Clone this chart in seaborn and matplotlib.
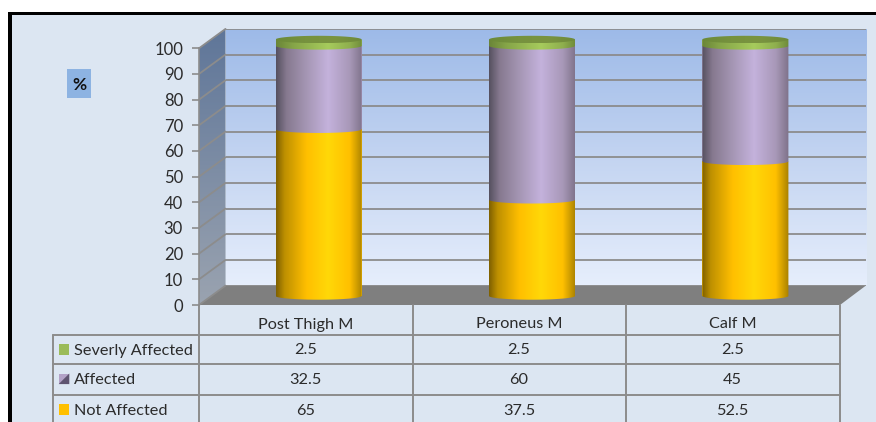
import numpy as np
import pandas as pd
import matplotlib
matplotlib.use("Agg")
import matplotlib.pyplot as plt
import seaborn as sns
from matplotlib.colors import LinearSegmentedColormap as LSC
from matplotlib.path import Path
from matplotlib.patches import Rectangle, Polygon

# ---- data ----
categories = ["Post Thigh M", "Peroneus M", "Calf M"]
not_affected = [65, 37.5, 52.5]
affected = [32.5, 60, 45]
severly_affected = [2.5, 2.5, 2.5]
y_ticks = list(range(0, 101, 10))
unit_label = "%"

W, H = 876, 422
sns.set_theme(style="white")
plt.rcParams["font.family"] = ["Lato", "DejaVu Sans"]
TXT = "#2b2b2b"
GRID = "#8c8c8c"

fig = plt.figure(figsize=(W / 100, H / 100), dpi=100, facecolor="white")

def axes_px(x0, x1, ytop, ybot, z):
    a = fig.add_axes([x0 / W, (H - ybot) / H, (x1 - x0) / W, (ybot - ytop) / H], zorder=z)
    a.patch.set_visible(False)
    return a

# ---- pixel-space backdrop ----
deco = axes_px(0, W, 0, H, 0)
deco.set_xlim(0, W); deco.set_ylim(H, 0); deco.axis("off")
deco.add_patch(Rectangle((8.3, 12.3), W, H, fc="black", ec="none"))
deco.add_patch(Rectangle((11.7, 15.3), W, H, fc="#DCE6F2", ec="none"))

# left wall and floor
wall_cm = LSC.from_list("wall", ["#5F7699", "#9AA3B0"])
im = deco.imshow(np.linspace(0, 1, 128)[:, None], cmap=wall_cm, aspect="auto",
                 extent=(199, 225.5, 305, 29), zorder=1, origin="upper")
im.set_clip_path(Polygon([(199, 48.3), (225.5, 29), (225.5, 285.5), (199, 305)],
                         transform=deco.transData))
deco.add_patch(Polygon([(199, 305), (225.5, 285.5), (866, 285.5), (840, 305)],
                       fc="#7F7F7F", ec="none", zorder=2))
deco.set_xlim(0, W); deco.set_ylim(H, 0)

# back wall with its own value scale
back = axes_px(225.5, 866, 29, 285.5, 1)
back.set_ylim(0, 100); back.set_xlim(0, 1)
wall2 = LSC.from_list("back", ["#E6EEFC", "#C3D4F1", "#9DBAE8"])
back.imshow(np.linspace(1, 0, 128)[:, None], cmap=wall2, aspect="auto",
            extent=(0, 1, 0, 100), zorder=0)
back.set_ylim(0, 100); back.set_xlim(0, 1)
back.set_yticks(y_ticks); back.set_xticks([])
back.tick_params(left=False, labelleft=False)
back.grid(axis="y", color=GRID, lw=1.3)
back.set_axisbelow(False)
sns.despine(ax=back, left=True, bottom=True, right=True, top=True)

# front plane: value axis and category labels
front = axes_px(199, 840, 48.3, 305, 2)
front.set_ylim(0, 100); front.set_xlim(-0.5, 2.5)
front.set_yticks(y_ticks)
front.set_xticks(range(len(categories)), categories)
front.tick_params(axis="y", length=5, width=1.2, color=GRID, labelsize=12,
                  labelcolor=TXT, pad=6.5, left=True)
front.tick_params(axis="x", length=0, labelsize=11.7, labelcolor=TXT, pad=9)
for s in front.spines.values():
    s.set_visible(False)
front.spines["left"].set_visible(True)
front.spines["left"].set_color(GRID)
front.spines["left"].set_linewidth(1.2)
for t in front.get_yticks():
    y = 305 - 2.567 * t
    deco.plot([199, 225.5], [y, y - 19.4], color=GRID, lw=1.3, zorder=3)
deco.set_xlim(0, W); deco.set_ylim(H, 0)

# ---- cylinders ----
ax = axes_px(211.9, 852.1, 39.5, 296, 3)
df = pd.DataFrame({"cat": categories,
                   "Not Affected": not_affected,
                   "Affected": affected,
                   "Severly Affected": severly_affected})
stack = ["Not Affected", "Affected", "Severly Affected"]
cum = df[stack].cumsum(axis=1)
base_cols = ["#FFC000", "#B3A2C7", "#9BBB59"]
for name, col in zip(stack[::-1], base_cols[::-1]):
    sns.barplot(data=cum, x=df["cat"], y=name, color=col, width=0.403,
                saturation=1, ax=ax, zorder=1, edgecolor="none", linewidth=0)
ax.set_xlim(-0.5, 2.5); ax.set_ylim(0, 100); ax.axis("off")

cmaps = {
    "Not Affected": LSC.from_list("y", [(0, "#7F6000"), (.1, "#BE9000"), (.35, "#FFBF00"),
                                        (.6, "#FFD808"), (.85, "#FFC000"), (1, "#A88000")]),
    "Affected": LSC.from_list("p", [(0, "#55505F"), (.12, "#86798F"), (.35, "#A596B4"),
                                    (.6, "#C4B2DC"), (.85, "#A898B8"), (1, "#7E7289")]),
    "Severly Affected": LSC.from_list("g", [(0, "#6A8538"), (.2, "#86A548"), (.6, "#A6CB5C"),
                                            (.85, "#8FAF4E"), (1, "#6E8A3A")]),
}
top_cm = LSC.from_list("t", ["#6C8A38", "#76923E", "#7A9440", "#6E8A3A"])
RY = 3.7 / 2.565
grad = np.linspace(0, 1, 256)[None, :]
t_low = np.linspace(np.pi, 2 * np.pi, 60)
t_all = np.linspace(0, 2 * np.pi, 120)

# containers were drawn top of stack first
conts = list(ax.containers)[::-1]
for i, name in enumerate(stack):
    for j, bar in enumerate(conts[i]):
        x0, w = bar.get_x(), bar.get_width()
        top = bar.get_height()
        bottom = conts[i - 1][j].get_height() if i else 0.0
        xc = x0 + w / 2
        xs = np.r_[x0, xc + w / 2 * np.cos(t_low), x0 + w, x0]
        ys = np.r_[top, bottom + RY * np.sin(t_low), top, top]
        img = ax.imshow(grad, cmap=cmaps[name], aspect="auto", zorder=5 + i,
                        extent=(x0, x0 + w, bottom - RY, top))
        img.set_clip_path(Path(np.c_[xs, ys]), ax.transData)
        img.set_clip_box(fig.bbox)
        if i == len(stack) - 1:
            path = Path(np.c_[xc + w / 2 * np.cos(t_all), top + RY * np.sin(t_all)])
            img2 = ax.imshow(grad, cmap=top_cm, aspect="auto", zorder=9,
                             extent=(x0, x0 + w, top - RY, top + RY))
            img2.set_clip_path(path, ax.transData)
            img2.set_clip_box(fig.bbox)
ax.set_xlim(-0.5, 2.5); ax.set_ylim(0, 100)

# ---- data table ----
top_ax = axes_px(0, W, 0, H, 4)
top_ax.set_xlim(0, W); top_ax.set_ylim(H, 0); top_ax.axis("off")
LW = 1.4
for x in (199, 412.5, 625.5, 839.5):
    top_ax.plot([x, x], [305, H], color=GRID, lw=LW)
top_ax.plot([52.7, 52.7], [334.5, H], color=GRID, lw=LW)
for y in (334.5, 364.4, 395):
    top_ax.plot([52.7, 839.5], [y, y], color=GRID, lw=LW)

centers = [199 + 213.3 * (i + 0.5) for i in range(3)]
rows = [("Severly Affected", severly_affected, 349, "#9BBB59", 344),
        ("Affected", affected, 379, None, 373.5),
        ("Not Affected", not_affected, 409.5, "#FFC000", 404)]
for label, vals, yc, key, ky in rows:
    top_ax.text(74, yc, label, fontsize=11.7, color=TXT, ha="left", va="center_baseline")
    for cx, v in zip(centers, vals):
        top_ax.text(cx, yc, f"{v:g}", fontsize=11.7, color=TXT, ha="center", va="center_baseline")
    if key:
        top_ax.add_patch(Rectangle((58.7, ky), 10.6, 10.6, fc=key, ec="none"))
    else:
        top_ax.add_patch(Rectangle((58.7, ky), 10.6, 10.6, fc="#B3A2C7", ec="none"))
        top_ax.add_patch(Polygon([(69.3, ky), (69.3, ky + 10.6), (58.7, ky + 10.6), (64, ky + 5.3)],
                                 fc="#5F5470", ec="none"))

# unit label box
top_ax.add_patch(Rectangle((66.7, 69), 24.6, 28.7, fc="#8DB3E2", ec="none"))
top_ax.text(79, 84.5, unit_label, fontsize=12.5, fontweight="bold", color="#111111",
            ha="center", va="center")

fig.savefig("out.png", dpi=100)
